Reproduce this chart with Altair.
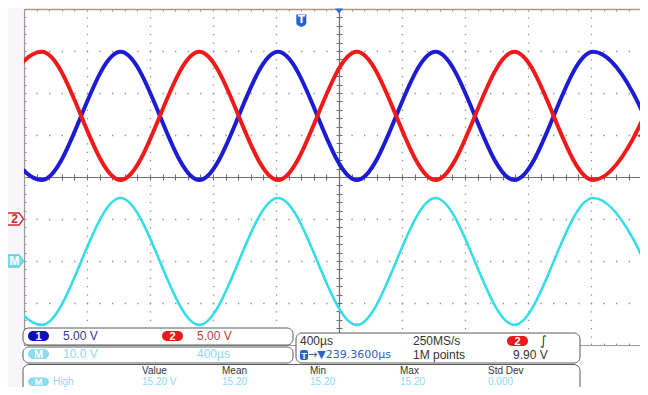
import altair as alt
import pandas as pd

# ---------------- data ----------------
# time in microseconds (400 us/div, 0 = screen centre); level in screen divisions (0 = centre line)
ext_times = [-2387, -1887, -1387, -887, -387, 113, 613, 1113, 1613, 2113]
ch1_levels = [2.98, -0.07, 2.98, -0.07, 2.98, -0.07, 2.98, -0.07, 2.98, -0.07]
ch2_levels = [-0.07, 2.98, -0.07, 2.98, -0.07, 2.98, -0.07, 2.98, -0.07, 2.98]
math_levels = [-0.50, -3.52, -0.50, -3.52, -0.50, -3.52, -0.50, -3.52, -0.50, -3.52]

ch2_ground_level = [-1.0]
math_ground_level = [-2.0]
trigger_level = [0.98]
trigger_time = [-239.36]
time_reference = [0.0]

x_major = [-1600, -1200, -800, -400, 0, 400, 800, 1200, 1600]
y_major = [-3, -2, -1, 0, 1, 2, 3]

ch_scale_texts = ["5.00 V", "5.00 V", "10.0 V", "400µs"]
timebase_texts = ["400µs", "250MS/s", "9.90 V", "→▼239.3600µs", "1M points"]
meas_headers = ["Value", "Mean", "Min", "Max", "Std Dev"]
meas_values = ["15.20 V", "15.20", "15.20", "15.20", "0.000"]
meas_name = ["High"]

# ---------------- layout / style ----------------
PW, PH = 616, 336          # plot area (10 x 8 divisions, right part cut off by the window)
PADB = 42                  # room below the plot for the info panels
OX, OY = 24, 9             # window position of plot origin
FONT = "Liberation Sans"
GRID = "#8c8c8c"
CENTER = "#6e6e6e"
BORDER = "#9a9a9a"
BROWN = "#b8977a"
RED = "#f01a1a"
BLUE = "#1c1cd4"
CYAN = "#36dde8"
LCYAN = "#8cd9ee"
PX_PER_US = 63 / 400

x_minor = list(range(-2000, 1912, 80))
y_minor = [round(-4 + 0.2 * i, 1) for i in range(41)]

XS = alt.Scale(domain=[-2000, -2000 + PW / PX_PER_US], nice=False, zero=False)
YS = alt.Scale(domain=[-4, 4], nice=False, zero=False)
XC = 315  # pixel of t = 0


def wx(v):
    return v - OX


def wy(v):
    return v - OY


wave_df = pd.DataFrame({"t": ext_times, "ch1": ch1_levels, "ch2": ch2_levels, "m": math_levels})


def wave(col, color, width):
    return alt.Chart(wave_df).mark_line(
        color=color, strokeWidth=width, interpolate="monotone", clip=True
    ).encode(x=alt.X("t:Q", scale=XS, axis=None), y=alt.Y(f"{col}:Q", scale=YS, axis=None))


def axis_layer(xaxis, yaxis):
    return alt.Chart(wave_df).mark_point(opacity=0).encode(
        x=alt.X("t:Q", scale=XS, axis=xaxis), y=alt.Y("ch1:Q", scale=YS, axis=yaxis)
    )


def ax(**kw):
    base = dict(labels=False, title=None, grid=False, zindex=0)
    base.update(kw)
    return alt.Axis(**base)


grid_x = ax(values=x_major, grid=True, gridColor=GRID, gridWidth=1.3, gridDash=[1.3, 7.1],
            gridDashOffset=0.65, ticks=False, domain=False)
grid_y = ax(values=y_major, grid=True, gridColor=GRID, gridWidth=1.3, gridDash=[1.3, 11.3],
            gridDashOffset=0.65, ticks=False, domain=False)
top_x = ax(orient="bottom", offset=-PH, values=x_minor, tickSize=2, tickColor=GRID,
           domain=True, domainColor=BROWN, domainWidth=1.6)
bot_x = ax(orient="top", offset=-PH, values=x_minor, tickSize=2, tickColor=GRID,
           domain=True, domainColor=BORDER)
left_y = ax(orient="right", offset=-PW, values=y_minor, tickSize=2, tickColor=GRID,
            domain=True, domainColor=BORDER, domainWidth=1.3)
cx_down = ax(orient="bottom", offset=-PH / 2, values=x_minor, tickSize=3, tickColor=CENTER,
             domain=True, domainColor=CENTER, domainWidth=1.2)
cx_up = ax(orient="top", offset=-PH / 2, values=x_minor, tickSize=3, tickColor=CENTER, domain=False)
cy_left = ax(orient="left", offset=-XC, values=y_minor, tickSize=3, tickColor=CENTER,
             domain=True, domainColor=CENTER, domainWidth=1.2)
cy_right = ax(orient="right", offset=-(PW - XC), values=y_minor, tickSize=3, tickColor=CENTER,
              domain=False)


def one():
    return alt.Data(values=[{"k": 0}])


def box(x1, y1, x2, y2, fill, stroke=None, r=0, sw=1.0):
    kw = dict(fill=fill, cornerRadius=r)
    if stroke:
        kw.update(stroke=stroke, strokeWidth=sw)
    return alt.Chart(one()).mark_rect(**kw).encode(
        x=alt.value(wx(x1)), x2=alt.value(wx(x2)), y=alt.value(wy(y1)), y2=alt.value(wy(y2))
    )


def label(s, x, y, color, size=12, bold=False, align="left", font=FONT):
    return alt.Chart(alt.Data(values=[{"s": s}])).mark_text(
        align=align, baseline="middle", font=font, fontSize=size,
        fontWeight="bold" if bold else "normal", color=color
    ).encode(x=alt.value(wx(x)), y=alt.value(wy(y)), text="s:N")


def oval(x1, y1, x2, y2, fill, s, size=11):
    return [box(x1, y1, x2, y2, fill, r=5),
            label(s, (x1 + x2) / 2, (y1 + y2) / 2 + 0.5, "white", size=size, bold=True, align="center")]


PENT = "M-1,-0.75 L0.45,-0.75 L1,0 L0.45,0.75 L-1,0.75 Z"
TRI_L = "M1,-1 L-1,0 L1,1 Z"
TRI_D = "M-1,-0.6 L1,-0.6 L0,0.6 Z"
SHIELD = "M-1,-1.1 L1,-1.1 L1,0.6 Q1,1.1 0,1.4 Q-1,1.1 -1,0.6 Z"


def level_marker(levels, fill, stroke, txt, txtcolor):
    df = pd.DataFrame({"lvl": levels, "s": [txt] * len(levels)})
    m = alt.Chart(df).mark_point(shape=PENT, size=256, filled=True, fill=fill, stroke=stroke,
                                 strokeWidth=1.3, opacity=1).encode(
        x=alt.value(-8.5), y=alt.Y("lvl:Q", scale=YS, axis=None))
    t = alt.Chart(df).mark_text(font=FONT, fontSize=12, fontWeight="bold", color=txtcolor,
                                align="center", baseline="middle").encode(
        x=alt.value(-9.5), y=alt.Y("lvl:Q", scale=YS, axis=None), text="s:N")
    return [m, t]


trig_lvl = alt.Chart(pd.DataFrame({"lvl": trigger_level})).mark_point(
    shape=TRI_L, size=64, filled=True, color=RED, opacity=1).encode(
    x=alt.value(PW + 1), y=alt.Y("lvl:Q", scale=YS, axis=None))

tref = alt.Chart(pd.DataFrame({"t": time_reference})).mark_point(
    shape=TRI_D, size=64, filled=True, color="#2a6cd8", opacity=1).encode(
    x=alt.X("t:Q", scale=XS, axis=None), y=alt.value(2))

ttime_df = pd.DataFrame({"t": trigger_time, "s": ["T"]})
tpos = alt.Chart(ttime_df).mark_point(
    shape=SHIELD, size=100, filled=True, color="#2466c8", opacity=1).encode(
    x=alt.X("t:Q", scale=XS, axis=None), y=alt.value(wy(20)))
tpos_t = alt.Chart(ttime_df).mark_text(font="DejaVu Sans", fontSize=10, fontWeight="bold",
                                       color="white", align="center", baseline="middle").encode(
    x=alt.X("t:Q", scale=XS, axis=None), y=alt.value(wy(20)), text="s:N")

layers = [
    box(8, 8, 23, 400, "#f8f6fa"),
    axis_layer(grid_x, grid_y),
    axis_layer(top_x, left_y),
    axis_layer(bot_x, None),
    axis_layer(cx_down, cy_left),
    axis_layer(cx_up, cy_right),
    wave("m", CYAN, 2.6),
    wave("ch1", BLUE, 4.0),
    wave("ch2", RED, 4.0),
]
layers += level_marker(ch2_ground_level, "white", "#d42828", "2", "#d42828")
layers += level_marker(math_ground_level, "#7edcea", "#5fd0e0", "M", "white")
layers += [trig_lvl, tref, tpos, tpos_t]

# ---- bottom information panels ----
layers += [box(23, 328, 293, 345, "white", "#5a5a5a", r=6),
           box(23, 347, 293, 363, "white", "#5a5a5a", r=6),
           box(296, 333, 580, 363, "white", "#5a5a5a", r=6),
           box(23, 364.5, 580, 410, "white", "#5a5a5a", r=6)]
layers += oval(28, 331, 49, 341, "#1010b4", "1")
layers += [label(ch_scale_texts[0], 63, 336, "#34349c")]
layers += oval(162, 331, 183, 341, "#e81a1a", "2")
layers += [label(ch_scale_texts[1], 197, 336, "#c83a3a")]
layers += oval(28, 349, 49, 359, "#8adcf0", "M")
layers += [label(ch_scale_texts[2], 63, 354, LCYAN), label(ch_scale_texts[3], 197, 354, LCYAN)]

layers += [label(timebase_texts[0], 300, 341, "#333333"),
           label(timebase_texts[1], 413, 341, "#333333")]
layers += oval(507, 336, 528, 346, "#e81a1a", "2")
layers += [label("∫", 540, 341, "#333333", size=13, font="DejaVu Sans"),
           box(300, 350, 308, 360, "#2466c8", r=2),
           label("T", 304, 355.5, "white", size=9, bold=True, align="center"),
           label(timebase_texts[3], 308, 355, "#2a62c2", font="DejaVu Sans", size=11),
           label(timebase_texts[4], 413, 355, "#333333"),
           label(timebase_texts[2], 513, 355, "#333333")]

hx = [142, 222, 310, 400, 488]
for s, x in zip(meas_headers, hx):
    layers.append(label(s, x, 370.5, "#333333", size=10))
layers += oval(28, 377.5, 49, 386, "#8adcf0", "M", size=9)
layers.append(label(meas_name[0], 53, 381.8, LCYAN, size=10))
for s, x in zip(meas_values, hx):
    layers.append(label(s, x, 381.8, LCYAN, size=10))

chart = alt.layer(*layers).resolve_axis(x="independent", y="independent").properties(
    width=PW, height=PH,
    autosize=alt.AutoSizeParams(type="none"),
    padding={"left": 16, "top": 1, "right": 0, "bottom": PADB},
    background="white",
).configure_view(stroke=None)

chart.save("out.html", embed_options={"renderer": "svg", "actions": False})
